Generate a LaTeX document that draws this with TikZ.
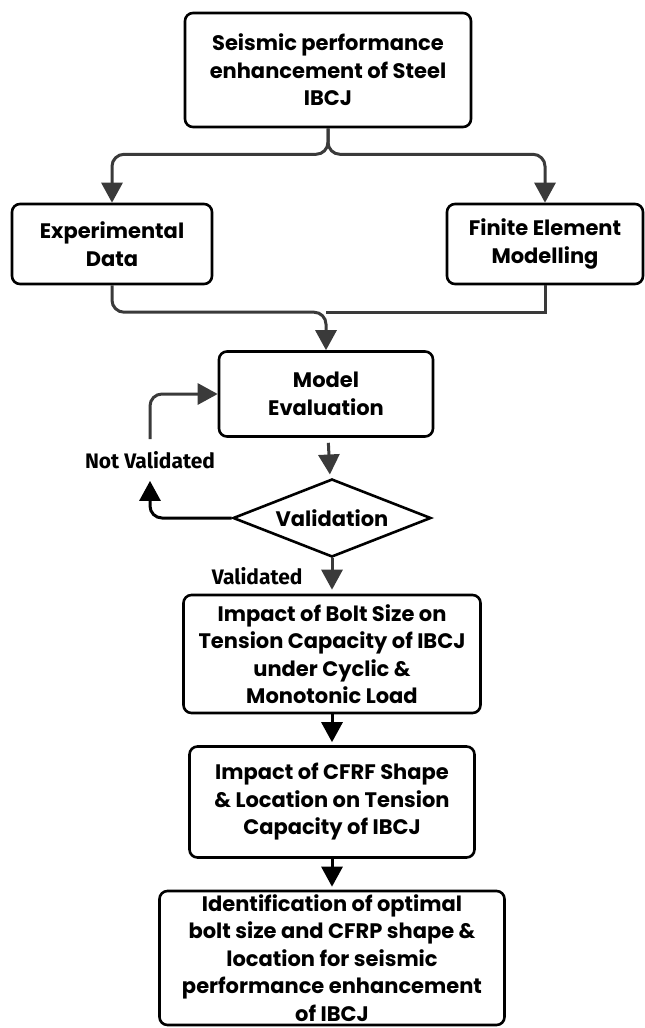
\documentclass[tikz,border=0pt]{standalone}
\usepackage{fontspec}
\setmainfont{Poppins}
\newfontfamily\lblfont{Fira Sans}
\usetikzlibrary{shapes.geometric,arrows.meta}

\definecolor{linegray}{HTML}{3A3A3A}

\begin{document}
\begin{tikzpicture}[x=1pt,y=-1pt,
  box/.style={draw=black,line width=2.6pt,rounded corners=8pt,align=center,
    font=\fontsize{21}{27.5}\selectfont\bfseries,inner sep=0pt},
  dec/.style={draw=black,line width=2.6pt,diamond,aspect=2.5,inner sep=0pt,
    font=\fontsize{21}{27.5}\selectfont\bfseries},
  wire/.style={draw=linegray,line width=3pt},
  conn/.style={wire,-{Triangle[length=20pt,width=21pt]}},
  blackconn/.style={conn,draw=black},
  lbl/.style={font=\lblfont\fontsize{21}{24}\selectfont\bfseries,inner sep=0pt}]
\useasboundingbox (0,0) rectangle (645,1028);

% boxes
\node[box,minimum width=286pt,minimum height=114pt] (top) at (328,70) {Seismic performance\\enhancement of Steel\\IBCJ};
\node[box,minimum width=200pt,minimum height=80pt] (exp) at (112,244) {Experimental\\Data};
\node[box,minimum width=196pt,minimum height=80pt] (fem) at (545,244) {Finite Element\\Modelling};
\node[box,minimum width=214pt,minimum height=85pt] (model) at (326,394) {Model\\Evaluation};
\node[dec,minimum width=198pt,minimum height=78pt] (valid) at (332,518) {Validation};
\node[box,minimum width=297pt,minimum height=118pt] (bolt) at (332,654) {Impact of Bolt Size on\\Tension Capacity of IBCJ\\under Cyclic \&\\Monotonic Load};
\node[box,minimum width=285pt,minimum height=111pt] (cfrf) at (332,802) {Impact of CFRF Shape\\\& Location on Tension\\Capacity of IBCJ};
\node[box,minimum width=345pt,minimum height=134pt] (ident) at (332,958) {Identification of optimal\\bolt size and CFRP shape \&\\location for seismic\\performance enhancement\\of IBCJ};
\node[lbl,inner ysep=12pt] (nv) at (150,460) {Not Validated};

% connectors
\draw[conn,rounded corners=12pt] (top.south) -- ++(0,26) -| (exp.north);
\draw[conn,rounded corners=12pt] (top.south) -- ++(0,26) -| (fem.north);
\coordinate (merge) at ([yshift=38pt]model.north);
\draw[wire] (fem.south) |- (merge);
\draw[conn,rounded corners=12pt] (exp.south) |- (merge) -- (model.north);
\draw[conn,shorten <=5pt,shorten >=4pt] (model) -- (valid);
\draw[conn,shorten >=4pt] (valid) -- node[lbl,left=28pt] (vd) {Validated} (bolt);
\draw[blackconn,rounded corners=12pt] (valid.west) -| (nv.south);
\draw[conn,rounded corners=12pt] (nv.north) |- (model.west);
\draw[blackconn,shorten >=3pt] (bolt) -- (cfrf);
\draw[blackconn,shorten >=3pt] (cfrf) -- (ident);
\end{tikzpicture}
\end{document}
